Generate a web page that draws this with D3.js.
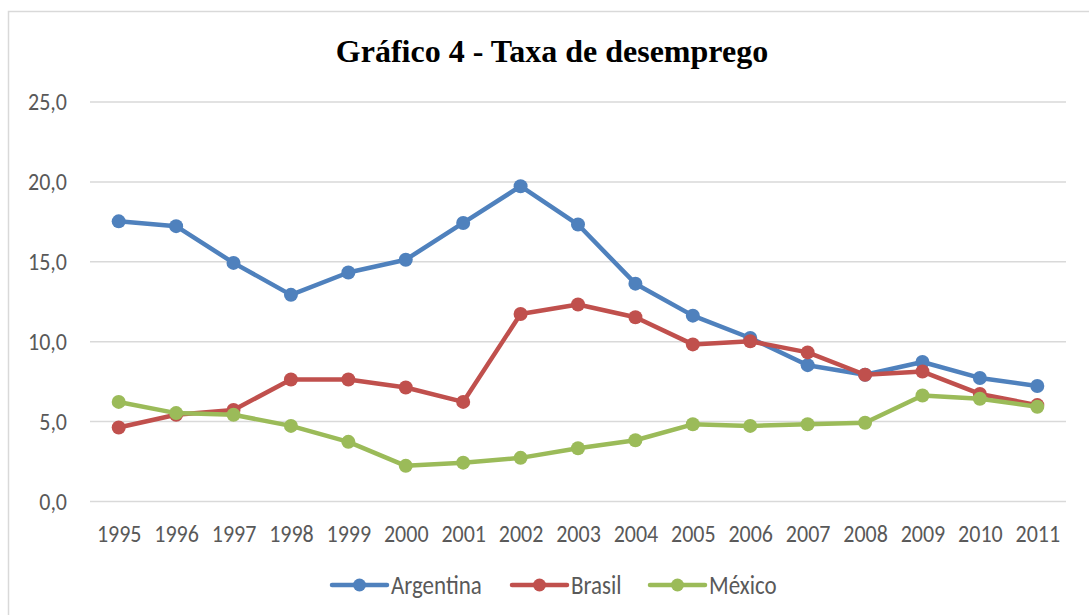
<!DOCTYPE html>
<html><head><meta charset="utf-8">
<script src="https://cdn.jsdelivr.net/npm/d3@7"></script>
<style>body{margin:0;background:#fff}svg{display:block}
.st{transform-box:fill-box;transform-origin:center;transform:scaleY(1.15)}</style>
</head><body><svg id="c" width="1089" height="615"></svg>
<script>
const years = ["1995","1996","1997","1998","1999","2000","2001","2002","2003","2004","2005","2006","2007","2008","2009","2010","2011"];
const argentina = [17.5,17.2,14.9,12.9,14.3,15.1,17.4,19.7,17.3,13.6,11.6,10.2,8.5,7.9,8.7,7.7,7.2];
const brasil = [4.6,5.4,5.7,7.6,7.6,7.1,6.2,11.7,12.3,11.5,9.8,10.0,9.3,7.9,8.1,6.7,6.0];
const mexico = [6.2,5.5,5.4,4.7,3.7,2.2,2.4,2.7,3.3,3.8,4.8,4.7,4.8,4.9,6.6,6.4,5.9];
const yTicks = [0,5,10,15,20,25];
const seriesNames = ["Argentina","Brasil","México"];
const colors = ["#4F81BD","#C0504D","#9BBB59"];
const series = [argentina, brasil, mexico];

const svg = d3.select("#c");
const font = "Carlito, Calibri, 'Open Sans', sans-serif";
svg.append("rect").attr("x",8.5).attr("y",11.5).attr("width",1100).attr("height",700)
  .attr("fill","#fff").attr("stroke","#d9d9d9").attr("stroke-width",1.5);

const x = d3.scalePoint().domain(years).range([90,1066]).padding(0.5);
const y = d3.scaleLinear().domain([0,25]).range([501,101.5]);

svg.append("text").attr("x",552).attr("y",62).attr("text-anchor","middle")
  .attr("font-family","'Liberation Serif','Times New Roman',serif").attr("font-weight","bold")
  .attr("font-size",32).attr("fill","#000").text("Gráfico 4 - Taxa de desemprego");

const gy = svg.append("g").attr("transform","translate(90,0)")
  .call(d3.axisLeft(y).tickValues(yTicks).tickSize(-976).tickPadding(23)
    .tickFormat(d => d3.format(".1f")(d).replace(".",",")));
gy.select(".domain").remove();
gy.selectAll("line").attr("stroke","#d9d9d9").attr("stroke-width",1.5);
gy.selectAll("text").attr("class","st").attr("font-family",font).attr("font-size",22).attr("fill","#595959");

const gx = svg.append("g").attr("transform","translate(0,501)")
  .call(d3.axisBottom(x).tickSize(0).tickPadding(24));
gx.select(".domain").remove();
gx.selectAll("text").attr("class","st").attr("font-family",font).attr("font-size",22).attr("fill","#595959");

const line = d3.line().x((d,i)=>x(years[i])).y(d=>y(d));
series.forEach((s,k)=>{
  const g = svg.append("g");
  g.append("path").datum(s).attr("d",line).attr("fill","none").attr("stroke",colors[k])
    .attr("stroke-width",4.5).attr("stroke-linejoin","round").attr("stroke-linecap","round");
  g.selectAll("circle").data(s).join("circle").attr("cx",(d,i)=>x(years[i])).attr("cy",d=>y(d))
    .attr("r",7).attr("fill",colors[k]);
});

const legX = [332,512,650];
seriesNames.forEach((n,k)=>{
  const g = svg.append("g").attr("transform",`translate(${legX[k]},585)`);
  g.append("line").attr("x1",0).attr("x2",55).attr("stroke",colors[k]).attr("stroke-width",4.5).attr("stroke-linecap","round");
  g.append("circle").attr("cx",27.5).attr("r",6.5).attr("fill",colors[k]);
  g.append("text").attr("class","st").attr("x",59).attr("y",0).attr("dy","0.35em").attr("font-family",font)
    .attr("font-size",23).attr("fill","#595959").text(n);
});
</script></body></html>
